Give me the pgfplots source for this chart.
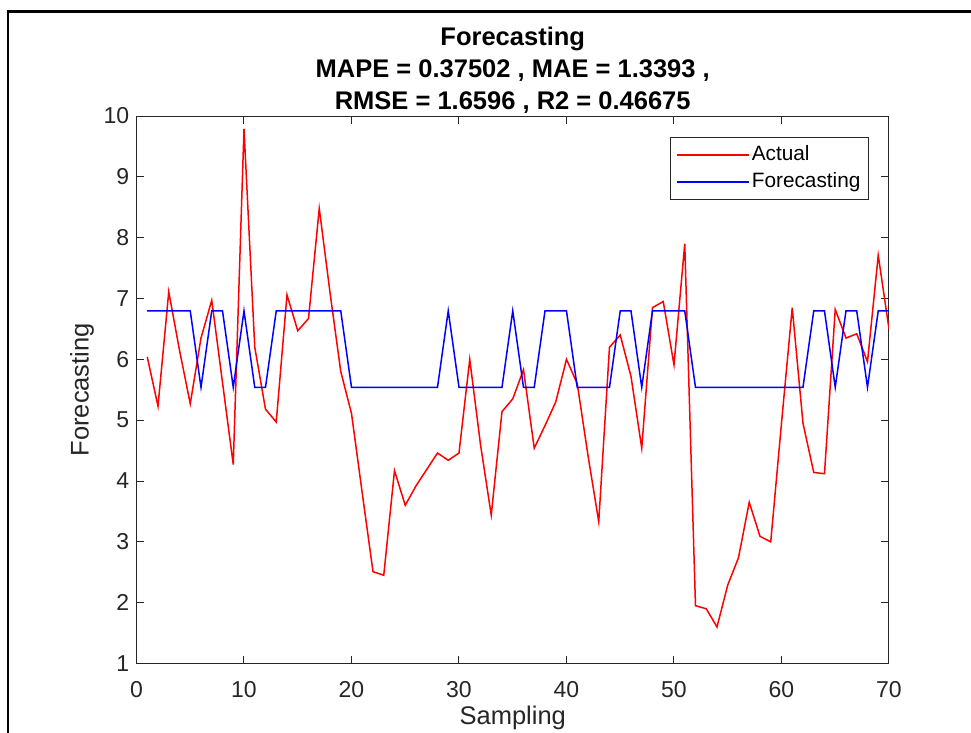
\documentclass[border=0pt]{standalone}
\usepackage{fontspec}
\setmainfont{Liberation Sans}
\usepackage{pgfplots}
\pgfplotsset{compat=1.18}
\definecolor{mgray}{rgb}{0.15,0.15,0.15}

\begin{document}
\begin{tikzpicture}
\useasboundingbox (0,0) rectangle (485.5pt,366.5pt);
\fill[white] (0,0) rectangle (485.5pt,366.5pt);
\draw[line width=1.25pt, black] (4pt,-5pt) -- (4pt,360.75pt) -- (490pt,360.75pt);

\begin{axis}[
  at={(68.25pt,34.75pt)}, anchor=south west,
  scale only axis, width=376.25pt, height=273.75pt,
  xmin=0, xmax=70, ymin=1, ymax=10,
  xtick={0,10,...,70}, ytick={1,2,...,10},
  tick align=inside, tick pos=both, major tick length=3.75pt,
  axis line style={mgray, line width=0.5pt},
  tick style={mgray, line width=0.5pt},
  /pgf/number format/assume math mode=true,
  ticklabel style={font=\fontsize{11.5}{13}\selectfont, text=mgray},
  xticklabel style={inner sep=0pt, anchor=north, yshift=-8.6pt},
  yticklabel style={inner sep=0pt, anchor=east, xshift=-3.5pt},
  title={Forecasting\\MAPE = 0.37502 , MAE = 1.3393 ,\\RMSE = 1.6596 , R2 = 0.46675},
  title style={font=\bfseries\fontsize{12.75}{16}\selectfont,
    align=center, inner sep=0pt, at={(0.5,1)}, anchor=south, yshift=-5pt},
  xlabel={Sampling}, ylabel={Forecasting},
  every axis x label/.style={at={(axis description cs:0.5,-0.1)}, anchor=center,
    font=\fontsize{12.75}{15}\selectfont, text=mgray},
  every axis y label/.style={at={(axis description cs:-0.0725,0.5)}, anchor=center,
    rotate=90, font=\fontsize{12.75}{15}\selectfont, text=mgray},
  legend style={at={(0.9734,0.9616)}, anchor=north east, draw=mgray, line width=0.5pt,
    font=\fontsize{10.4}{12}\selectfont, inner xsep=3pt, inner ysep=3.75pt,
    row sep=3.5pt, nodes={inner xsep=1pt, inner ysep=0pt, text height=7.5pt, text depth=2.5pt}},
  legend cell align=left,
  legend image code/.code={\draw[#1, line width=0.75pt] (0pt,0pt) -- (36pt,0pt);},
]
\addplot[red, line width=0.75pt] table {
x y
1 6.04
2 5.23
3 7.11
4 6.15
5 5.27
6 6.35
7 6.97
8 5.62
9 4.27
10 9.79
11 6.2
12 5.18
13 4.97
14 7.06
15 6.47
16 6.67
17 8.48
18 7.1
19 5.8
20 5.11
21 3.8
22 2.51
23 2.45
24 4.17
25 3.6
26 3.92
27 4.19
28 4.46
29 4.34
30 4.46
31 6.0
32 4.6
33 3.44
34 5.14
35 5.35
36 5.83
37 4.54
38 4.91
39 5.3
40 6.0
41 5.6
42 4.42
43 3.33
44 6.2
45 6.4
46 5.72
47 4.54
48 6.85
49 6.95
50 5.91
51 7.9
52 1.95
53 1.9
54 1.6
55 2.29
56 2.74
57 3.65
58 3.09
59 3.0
60 4.95
61 6.85
62 4.95
63 4.14
64 4.12
65 6.82
66 6.35
67 6.42
68 5.96
69 7.71
70 6.5
};
\addlegendentry{Actual}
\addplot[blue, line width=0.75pt] table {
x y
1 6.797
2 6.797
3 6.797
4 6.797
5 6.797
6 5.54
7 6.797
8 6.797
9 5.54
10 6.797
11 5.54
12 5.54
13 6.797
14 6.797
15 6.797
16 6.797
17 6.797
18 6.797
19 6.797
20 5.54
21 5.54
22 5.54
23 5.54
24 5.54
25 5.54
26 5.54
27 5.54
28 5.54
29 6.797
30 5.54
31 5.54
32 5.54
33 5.54
34 5.54
35 6.797
36 5.54
37 5.54
38 6.797
39 6.797
40 6.797
41 5.54
42 5.54
43 5.54
44 5.54
45 6.797
46 6.797
47 5.54
48 6.797
49 6.797
50 6.797
51 6.797
52 5.54
53 5.54
54 5.54
55 5.54
56 5.54
57 5.54
58 5.54
59 5.54
60 5.54
61 5.54
62 5.54
63 6.797
64 6.797
65 5.54
66 6.797
67 6.797
68 5.54
69 6.797
70 6.797
};
\addlegendentry{Forecasting}
\end{axis}
\end{tikzpicture}
\end{document}
